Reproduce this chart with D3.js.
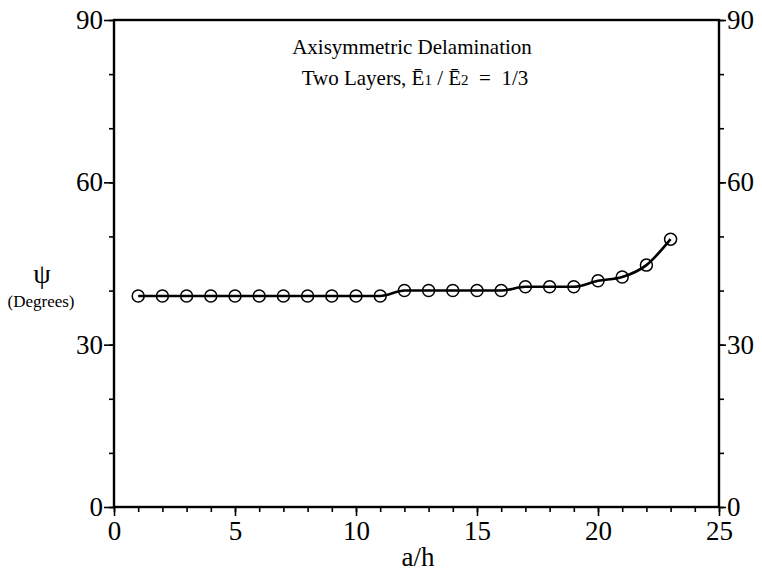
<!DOCTYPE html>
<html>
<head>
<meta charset="utf-8">
<script src="https://cdn.jsdelivr.net/npm/d3@7"></script>
<style>
  body { margin: 0; background: #fff; }
  text { font-family: "Liberation Serif", "DejaVu Serif", serif; fill: #000; white-space: pre; }
</style>
</head>
<body>
<svg id="chart" width="762" height="575"></svg>
<script>
// a/h values and psi in degrees
var aOverH = [1, 2, 3, 4, 5, 6, 7, 8, 9, 10, 11, 12, 13, 14, 15, 16, 17, 18, 19, 20, 21, 22, 23]
var psi = [39, 39, 39, 39, 39, 39, 39, 39, 39, 39, 39, 40, 40, 40, 40, 40, 40.7, 40.7, 40.7, 41.8, 42.5, 44.7, 49.5]
var xTicks = [0, 5, 10, 15, 20, 25]
var yTicks = [0, 30, 60, 90]

var svg = d3.select("#chart")
var mLeft = 114, mRight = 719, mTop = 20, mBottom = 507

var x = d3.scaleLinear().domain([0, 25]).range([mLeft, mRight])
var y = d3.scaleLinear().domain([0, 90]).range([mBottom, mTop])

function styleAxis(g) {
    g.select(".domain").remove()
    g.selectAll(".tick line").attr("stroke", "#000").attr("stroke-width", 1.6)
    g.selectAll(".tick text")
        .style("font-family", "'Liberation Serif', serif")
        .style("font-size", "27px")
        .attr("fill", "#000")
}

// minor ticks
svg.append("g").attr("transform", "translate(0," + mBottom + ")")
    .call(d3.axisBottom(x).ticks(25).tickSize(5).tickFormat(""))
    .call(styleAxis)
svg.append("g").attr("transform", "translate(" + mLeft + ",0)")
    .call(d3.axisLeft(y).ticks(9).tickSize(5).tickFormat(""))
    .call(styleAxis)
svg.append("g").attr("transform", "translate(" + mRight + ",0)")
    .call(d3.axisRight(y).ticks(9).tickSize(5).tickFormat(""))
    .call(styleAxis)

// major ticks with labels
svg.append("g").attr("transform", "translate(0," + mBottom + ")")
    .call(d3.axisBottom(x).tickValues(xTicks).tickSize(9).tickPadding(5))
    .call(styleAxis)
svg.append("g").attr("transform", "translate(" + mLeft + ",0)")
    .call(d3.axisLeft(y).tickValues(yTicks).tickSize(10).tickPadding(1))
    .call(styleAxis)
svg.append("g").attr("transform", "translate(" + mRight + ",0)")
    .call(d3.axisRight(y).tickValues(yTicks).tickSize(7).tickPadding(1))
    .call(styleAxis)

// frame
svg.append("rect")
    .attr("x", mLeft).attr("y", mTop)
    .attr("width", mRight - mLeft).attr("height", mBottom - mTop)
    .attr("fill", "none").attr("stroke", "#000").attr("stroke-width", 2.4)

var pts = aOverH.map(function(d, i) { return [d, psi[i]] })

var line = d3.line()
    .x(function(d) { return x(d[0]) })
    .y(function(d) { return y(d[1]) })
    .curve(d3.curveMonotoneX)

svg.append("path")
    .datum(pts)
    .attr("d", line)
    .attr("fill", "none")
    .attr("stroke", "#000")
    .attr("stroke-width", 2.6)

svg.selectAll("circle.pt")
    .data(pts)
    .enter()
    .append("circle")
    .attr("class", "pt")
    .attr("cx", function(d) { return x(d[0]) })
    .attr("cy", function(d) { return y(d[1]) })
    .attr("r", 6)
    .attr("fill", "none")
    .attr("stroke", "#000")
    .attr("stroke-width", 1.5)

// titles
svg.append("text")
    .attr("x", 412).attr("y", 54)
    .attr("text-anchor", "middle")
    .style("font-size", "21px")
    .text("Axisymmetric Delamination")

var t2 = svg.append("text")
    .attr("x", 415).attr("y", 85)
    .attr("text-anchor", "middle")
    .style("font-size", "21px")
t2.append("tspan").text("Two Layers, \u0112")
t2.append("tspan").style("font-size", "15px").text("1")
t2.append("tspan").text(" / \u0112")
t2.append("tspan").style("font-size", "15px").text("2")
t2.append("tspan").text("  =  1/3")

// axis labels
svg.append("text")
    .attr("x", 418).attr("y", 566)
    .attr("text-anchor", "middle")
    .style("font-size", "27px")
    .text("a/h")

svg.append("text")
    .attr("x", 42).attr("y", 283)
    .attr("text-anchor", "middle")
    .style("font-size", "28px")
    .text("\u03c8")

svg.append("text")
    .attr("x", 41).attr("y", 307)
    .attr("text-anchor", "middle")
    .style("font-size", "17px")
    .text("(Degrees)")
</script>
</body>
</html>
